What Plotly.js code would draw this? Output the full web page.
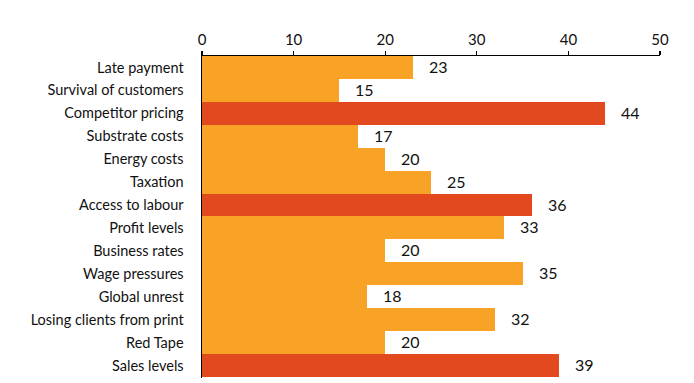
<!DOCTYPE html>
<html><head><meta charset="utf-8">
<script src="https://cdn.plot.ly/plotly-3.0.1.min.js"></script>
<style>html,body{margin:0;padding:0;background:#fff}#chart{width:694px;height:383px}</style>
</head><body><div id="chart"></div>
<script>
const categories = ["Late payment","Survival of customers","Competitor pricing","Substrate costs","Energy costs","Taxation","Access to labour","Profit levels","Business rates","Wage pressures","Global unrest","Losing clients from print","Red Tape","Sales levels"];
const values = [23,15,44,17,20,25,36,33,20,35,18,32,20,39];
const highlighted = [false,false,true,false,false,false,true,false,false,false,false,false,false,true];
const tickValues = [0,10,20,30,40,50];

const ORANGE = "#F9A326", RED = "#E2491F";
const colors = highlighted.map(h => h ? RED : ORANGE);
const font = "Lato, 'Open Sans', sans-serif";

const trace = {
  type: "bar", orientation: "h",
  x: values, y: categories,
  marker: {color: colors, line: {width: 0}},
  hoverinfo: "none"
};
const annotations = values.map((v,i) => ({
  x: v, y: categories[i], xref: "x", yref: "y",
  text: String(v), showarrow: false, xanchor: "left", xshift: 14, yshift: 1,
  font: {family: font, size: 16, color: "#111"}
}));
const layout = {
  width: 694, height: 383,
  margin: {l: 202, r: 34, t: 56, b: 5},
  paper_bgcolor: "#fff", plot_bgcolor: "#fff",
  bargap: 0,
  showlegend: false,
  xaxis: {
    side: "top", range: [0,50], tickvals: tickValues, ticktext: tickValues.map(String),
    showgrid: false, zeroline: false, showline: true, linecolor: "#000", linewidth: 1.5,
    ticks: "outside", ticklen: 4, tickcolor: "#000", tickwidth: 1.2,
    tickfont: {family: font, size: 15, color: "#111"}, fixedrange: true
  },
  yaxis: {
    autorange: "reversed", showgrid: false, zeroline: false,
    showline: true, linecolor: "#000", linewidth: 1.5, ticks: "",
    ticklabelstandoff: 14,
    tickfont: {family: font, size: 14.5, color: "#111"}, fixedrange: true
  },
  annotations: annotations,
  font: {family: font}
};
Plotly.newPlot("chart", [trace], layout, {displayModeBar: false, staticPlot: true});
</script></body></html>
